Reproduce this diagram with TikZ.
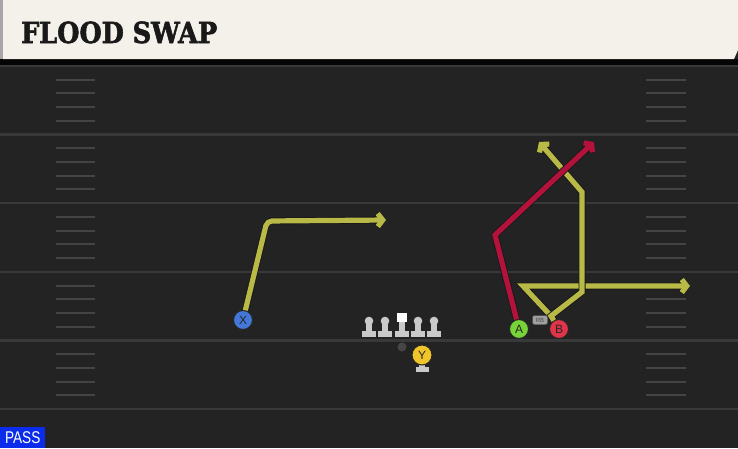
\documentclass[tikz,border=0pt]{standalone}
\usepackage{fontspec}
\usetikzlibrary{arrows.meta}
\newfontfamily\titlefont{DejaVu Serif}[FakeStretch=0.88, FakeBold=2]
\newfontfamily\labelfont{Liberation Sans}
\newfontfamily\passfont{Liberation Sans}[FakeStretch=0.8]
\definecolor{fieldbg}{HTML}{232323}
\definecolor{yardline}{HTML}{393939}
\definecolor{hashmark}{HTML}{444444}
\definecolor{titlebg}{HTML}{F4F1EA}
\definecolor{routeyellow}{HTML}{B9B947}
\definecolor{routered}{HTML}{B3123B}
\definecolor{passblue}{HTML}{0B2DEB}
\definecolor{xblue}{HTML}{4478D8}
\definecolor{agreen}{HTML}{78D23A}
\definecolor{bred}{HTML}{E0344A}
\definecolor{yyellow}{HTML}{EFC52A}
\definecolor{linegrey}{HTML}{C9C9C9}

\begin{document}
\begin{tikzpicture}[x=1pt,y=-1pt] % one unit = one pixel of the play card
    \tikzstyle{player}=[circle, draw=black!85, line width=1pt, minimum size=19pt, inner sep=0pt, font=\labelfont\fontsize{12}{12}\selectfont, text=black!85]
    \tikzstyle{route}=[draw=routeyellow, line width=5.2pt, preaction={draw=black!90, line width=7pt}, -{Straight Barb[length=5pt,width=13pt]}]
    \useasboundingbox (0,0) rectangle (738,448);
    \fill[fieldbg] (0,0) rectangle (738,448); % field

    % yard lines and hash marks
    \foreach \t in {0,...,5} {
        \draw[yardline, line width=2.4pt] (0,66+68.6*\t) -- (738,66+68.6*\t);
    }
    \foreach \t in {0,...,4} {
        \foreach \k in {1,...,4} {
            \draw[hashmark, line width=2pt] (56,66+68.6*\t+13.72*\k) -- (95,66+68.6*\t+13.72*\k);
            \draw[hashmark, line width=2pt] (646,66+68.6*\t+13.72*\k) -- (686,66+68.6*\t+13.72*\k);
        }
    }

    % title bar
    \fill[black!85!fieldbg] (0,59) rectangle (738,65);
    \fill[titlebg] (3,0) -- (738,0) -- (738,50) -- (734,59) -- (3,59) -- cycle;
    \fill[gray!70] (0,0) rectangle (3,59);
    \node[anchor=base west, inner sep=0pt, font=\titlefont\bfseries\fontsize{29}{29}\selectfont, text=black!90] (title) at (21,43) {FLOOD SWAP};

    % offensive line
    \foreach \x in {369,385,402,418,434} {
        \fill[linegrey] (\x-3,321) rectangle (\x+3,332);
        \fill[linegrey] (\x-7,331) rectangle (\x+7,337);
    }
    \foreach \x in {369,385,418,434} {
        \fill[linegrey] (\x,321) circle (4.3);
    }
    \fill[white] (397,312.5) rectangle (407,322); % center
    \fill[gray!55!black] (402,347) circle (4.5); % ball

    % players
    \node[player, fill=xblue] (X) at (243,320) {X};
    \node[player, fill=agreen] (A) at (519,329) {A};
    \node[player, fill=bred] (B) at (559,329) {B};
    \fill[linegrey] (419,364) rectangle (425,368);
    \fill[linegrey] (415.5,367) rectangle (428.5,371.5);
    \node[player, fill=yyellow, minimum size=20pt] (Y) at (422,355) {Y};

    % route corners
    \coordinate (xcut) at (267,221);
    \coordinate (xend) at (386,220);
    \coordinate (acut) at (495,235);
    \coordinate (aend) at (594,142);
    \coordinate (bjoin) at (551,316);
    \coordinate (bcut) at (582,292);
    \coordinate (bup) at (582,192);
    \coordinate (bend) at (539,142);
    \coordinate (bflat) at (523,286);
    \coordinate (bflatend) at (690,286);

    % routes
    \draw[route, rounded corners=5pt] (X) -- (xcut) -- (xend);
    \draw[route] (bjoin) -- (bflat) -- (bflatend);
    \draw[route] (B) -- (bjoin) -- (bcut) -- (bup) -- (bend);
    \draw[route, draw=routered] (A) -- (acut) -- (aend);

    \node[fill=gray!75, draw=black!70, rounded corners=2pt, inner sep=1pt, minimum width=15pt, minimum height=9pt, font=\labelfont\fontsize{6}{6}\selectfont, text=black!70] (rb) at (540,320) {RB};

    % play type
    \node[anchor=south west, fill=passblue, text=white, minimum width=45pt, minimum height=21pt, inner sep=0pt, font=\passfont\fontsize{17}{17}\selectfont] (pass) at (0,448) {PASS};
\end{tikzpicture}
\end{document}
